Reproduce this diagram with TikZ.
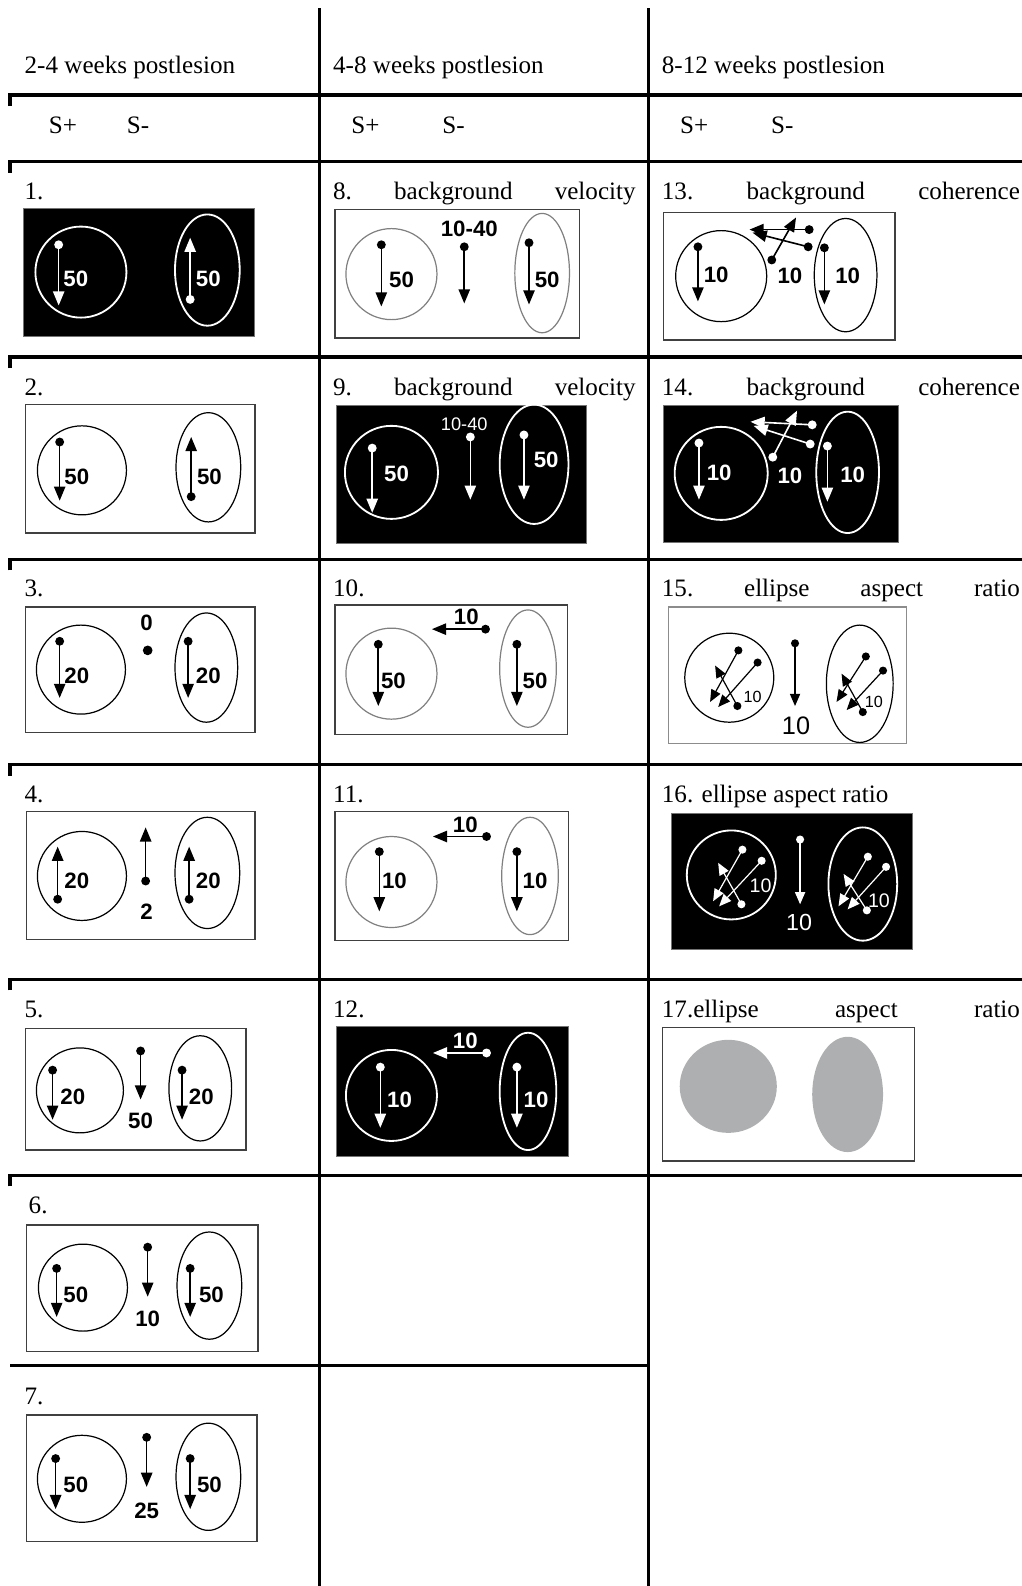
\documentclass[tikz,border=0pt]{standalone}
\usepackage{fontspec}
\setmainfont{Liberation Serif}
\newfontfamily\arialf{Liberation Sans}
\usetikzlibrary{arrows.meta}
\newcommand\labfont{\fontsize{12.4}{14}\selectfont}
\newcommand\pnumfont{\arialf\bfseries\fontsize{11}{11}\selectfont}
\newcommand\motionarrow[4][black]{%
  \coordinate (#2s) at (#3); \coordinate (#2e) at (#4);
  \fill[#1] (#2s) circle[radius=4.4];
  \draw[arr,#1] (#2s) -- (#2e);}
\newcommand\thinmotion[4][black]{%
  \coordinate (#2s) at (#3); \coordinate (#2e) at (#4);
  \fill[#1] (#2s) circle[radius=4];
  \draw[tarr,#1] (#2s) -- (#2e);}
\tikzset{
 grid/.style={line width=1.6pt, line join=miter},
 pnl/.style={draw=black!75, line width=0.7pt},
 bpnl/.style={fill=black, draw=black!55, line width=0.5pt},
 ring/.style={draw=black, line width=0.6pt},
 gring/.style={draw=black!50, line width=0.6pt},
 wring/.style={draw=white, line width=0.9pt},
 arr/.style={-{Triangle[length=7pt,width=5.6pt]}, line width=0.8pt},
 tarr/.style={-{Triangle[length=6pt,width=5pt]}, line width=0.6pt},
 lab/.style={font=\labfont, inner sep=0pt, anchor=base west},
 num/.style={font=\pnumfont, inner sep=0pt},
}
\begin{document}
\begin{tikzpicture}[x=0.5pt,y=-0.5pt]
\useasboundingbox (0,0) rectangle (1010,1568);
% ---------- grid ----------
\draw[grid] (316,8) -- (316,1568);
\draw[grid] (641,8) -- (641,1568);
\foreach \yy in {94,160,353,553,756,968,1162}
  \draw[grid] (10,\yy+11) -- (10,\yy) -- (1010,\yy);
\draw[grid] (10,1350) -- (641,1350);
% ---------- headers ----------
\node[lab] (h1) at (24,73) {2-4 weeks postlesion};
\node[lab] (h2) at (329,73) {4-8 weeks postlesion};
\node[lab] (h3) at (654,73) {8-12 weeks postlesion};
\node[lab] (sp1) at (48,132) {S+};  \node[lab] (sm1) at (125,132) {S-};
\node[lab] (sp2) at (347,132) {S+}; \node[lab] (sm2) at (437,132) {S-};
\node[lab] (sp3) at (672,132) {S+}; \node[lab] (sm3) at (762,132) {S-};
% ---------- row labels ----------
\node[lab] (t1) at (24,197) {1.};
\node[lab] (t2) at (24,391) {2.};
\node[lab] (t3) at (24,590) {3.};
\node[lab] (t4) at (24,793) {4.};
\node[lab] (t5) at (24,1006) {5.};
\node[lab] (t6) at (28,1200) {6.};
\node[lab] (t7) at (24,1389) {7.};
\node[lab] (t8) at (329,197) {\hbox to 149.5pt{8.\hfill background\hfill velocity}};
\node[lab] (t9) at (329,391) {\hbox to 149.5pt{9.\hfill background\hfill velocity}};
\node[lab] (t10) at (329,590) {10.};
\node[lab] (t11) at (329,793) {11.};
\node[lab] (t12) at (329,1006) {12.};
\node[lab] (t13) at (654,197) {\hbox to 177pt{13.\hfill background\hfill coherence}};
\node[lab] (t14) at (654,391) {\hbox to 177pt{14.\hfill background\hfill coherence}};
\node[lab] (t15) at (654,590) {\hbox to 177pt{15.\hfill ellipse\hfill aspect\hfill ratio}};
\node[lab] (t16) at (654,793) {16. ellipse aspect ratio};
\node[lab] (t17) at (654,1006) {\hbox to 177pt{17.ellipse\hfill aspect\hfill ratio}};
% ---------- panel 1 ----------
\filldraw[bpnl] (23,206) rectangle (252,333);
\draw[wring] (80,269) circle[radius=45];
\motionarrow[white]{a1}{58,242}{58,302}
\node[num,white] (n1a) at (75,276) {50};
\draw[wring] (205,267) circle[x radius=32,y radius=55];
\motionarrow[white]{b1}{188,296}{188,235}
\node[num,white] (n1b) at (206,276) {50};
% ---------- panel 2 ----------
\draw[pnl] (25,400) rectangle (252,527);
\draw[ring] (81,465) circle[radius=44];
\motionarrow{a2}{59,437}{59,495}
\node[num] (n2a) at (76,471) {50};
\draw[ring] (206,462) circle[x radius=32,y radius=54];
\motionarrow{b2}{189,491}{189,432}
\node[num] (n2b) at (207,471) {50};
% ---------- panel 3 ----------
\draw[pnl] (25,600) rectangle (252,724);
\draw[ring] (80,662) circle[radius=44];
\motionarrow{a3}{59,634}{59,690}
\node[num] (n3a) at (76,668) {20};
\node[num] (n3c) at (145,616) {0};
\coordinate (d3) at (146,643); \fill (d3) circle[radius=4.8];
\draw[ring] (204,660) circle[x radius=31,y radius=54];
\motionarrow{b3}{186,634}{186,690}
\node[num] (n3b) at (206,668) {20};
% ---------- panel 4 ----------
\draw[pnl] (26,802) rectangle (252,929);
\draw[ring] (81,866) circle[radius=44];
\motionarrow{a4}{57,889}{57,837}
\node[num] (n4a) at (76,871) {20};
\motionarrow{c4}{144,871}{144,818}
\node[num] (n4c) at (145,901) {2};
\draw[ring] (205,863) circle[x radius=32,y radius=55];
\motionarrow{b4}{187,889}{187,837}
\node[num] (n4b) at (206,871) {20};
% ---------- panel 5 ----------
\draw[pnl] (25,1017) rectangle (243,1137);
\draw[ring] (79,1078) circle[x radius=43,y radius=42];
\motionarrow{a5}{52,1058}{52,1107}
\node[num] (n5a) at (72,1084) {20};
\motionarrow{c5}{139,1039}{139,1087}
\node[num] (n5c) at (139,1108) {50};
\draw[ring] (198,1076) circle[x radius=31,y radius=52];
\motionarrow{b5}{180,1058}{180,1107}
\node[num] (n5b) at (199,1084) {20};
% ---------- panel 6 ----------
\draw[pnl] (26,1211) rectangle (255,1336);
\draw[ring] (82,1273) circle[x radius=44,y radius=43];
\motionarrow{a6}{56,1254}{56,1302}
\node[num] (n6a) at (75,1280) {50};
\motionarrow{c6}{146,1233}{146,1282}
\node[num] (n6c) at (146,1304) {10};
\draw[ring] (207,1271) circle[x radius=32,y radius=53];
\motionarrow{b6}{188,1254}{188,1302}
\node[num] (n6b) at (209,1280) {50};
% ---------- panel 7 ----------
\draw[pnl] (26,1399) rectangle (254,1524);
\draw[ring] (81,1462) circle[x radius=44,y radius=43];
\motionarrow{a7}{55,1442}{55,1492}
\node[num] (n7a) at (75,1468) {50};
\motionarrow{c7}{145,1421}{145,1470}
\node[num] (n7c) at (145,1494) {25};
\draw[ring] (206,1460) circle[x radius=32,y radius=53];
\motionarrow{b7}{188,1442}{188,1492}
\node[num] (n7b) at (207,1468) {50};
% ---------- panel 8 ----------
\draw[pnl] (331,207) rectangle (573,334);
\draw[gring] (387,271) circle[radius=45];
\motionarrow{a8}{377,242}{377,303}
\node[num] (n8a) at (397,277) {50};
\node[num] (n8c) at (464,226) {10-40};
\motionarrow{c8}{459,244}{459,300}
\draw[gring] (536,270) circle[x radius=27,y radius=59];
\motionarrow{b8}{523,240}{523,301}
\node[num] (n8b) at (541,277) {50};
% ---------- panel 9 ----------
\filldraw[bpnl] (333,401) rectangle (580,537);
\draw[wring] (387,467) circle[radius=46];
\motionarrow[white]{a9}{368,443}{368,507}
\node[num,white] (n9a) at (392,468) {50};
\node[white,inner sep=0pt,font=\arialf\fontsize{9}{9}\selectfont] (n9c) at (459,419) {10-40};
\motionarrow[white]{c9}{465,432}{465,494}
\draw[wring] (528,459) circle[x radius=34,y radius=59];
\motionarrow[white]{b9}{518,430}{518,494}
\node[num,white] (n9b) at (540,455) {50};
% ---------- panel 10 ----------
\draw[pnl] (331,598) rectangle (561,726);
\draw[gring] (387,666) circle[radius=45];
\motionarrow{a10}{374,637}{374,698}
\node[num] (n10a) at (389,673) {50};
\motionarrow{c10}{480,622}{427,622}
\node[num] (n10c) at (461,610) {10};
\draw[gring] (522,661) circle[x radius=28,y radius=58];
\motionarrow{b10}{511,637}{511,698}
\node[num] (n10b) at (529,673) {50};
% ---------- panel 11 ----------
\draw[pnl] (331,802) rectangle (562,930);
\draw[gring] (387,872) circle[radius=45];
\motionarrow{a11}{375,842}{375,901}
\node[num] (n11a) at (390,871) {10};
\motionarrow{c11}{481,827}{428,827}
\node[num] (n11c) at (460,815) {10};
\draw[gring] (524,866) circle[x radius=28,y radius=58];
\motionarrow{b11}{511,842}{511,901}
\node[num] (n11b) at (529,871) {10};
% ---------- panel 12 ----------
\filldraw[bpnl] (333,1015) rectangle (562,1143);
\draw[wring] (387,1083) circle[radius=45];
\motionarrow[white]{a12}{376,1055}{376,1115}
\node[num,white] (n12a) at (395,1087) {10};
\motionarrow[white]{c12}{481,1041}{428,1041}
\node[num,white] (n12c) at (460,1029) {10};
\draw[wring] (522,1079) circle[x radius=28,y radius=58];
\motionarrow[white]{b12}{511,1055}{511,1115}
\node[num,white] (n12b) at (530,1087) {10};
% ---------- panel 13 ----------
\draw[pnl] (656,210) rectangle (885,336);
\draw[ring] (713,273) circle[radius=45];
\motionarrow{a13}{690,244}{690,298}
\node[num] (n13a) at (708,272) {10};
\motionarrow{m13a}{800,227}{741,227}
\motionarrow{m13b}{799,244}{744,230}
\motionarrow{m13c}{763,257}{787,215}
\node[num] (n13c) at (781,273) {10};
\draw[ring] (836,272) circle[x radius=31,y radius=56];
\motionarrow{b13}{815,245}{815,301}
\node[num] (n13b) at (838,273) {10};
% ---------- panel 14 ----------
\filldraw[bpnl] (656,401) rectangle (888,536);
\draw[wring] (713,468) circle[radius=46];
\motionarrow[white]{a14}{691,438}{691,494}
\node[num,white] (n14a) at (711,467) {10};
\motionarrow[white]{m14a}{803,420}{742,417}
\motionarrow[white]{m14b}{801,439}{745,421}
\motionarrow[white]{m14c}{764,452}{788,406}
\node[num,white] (n14c) at (781,470) {10};
\draw[wring] (838,467) circle[x radius=31,y radius=60];
\motionarrow[white]{b14}{818,441}{818,496}
\node[num,white] (n14b) at (843,469) {10};
% ---------- panel 15 ----------
\draw[draw=black!45, line width=0.7pt] (661,600) rectangle (896,735);
\draw[ring] (721,670) circle[radius=44];
\thinmotion{p15a}{730,643}{702,694}
\thinmotion{p15b}{749,655}{710,699}
\thinmotion{p15c}{729,698}{707,658}
\node[inner sep=0pt,font=\arialf\fontsize{8}{8}\selectfont] (n15a) at (744,689) {10};
\thinmotion{c15}{786,636}{786,698}
\node[inner sep=0pt,font=\arialf\fontsize{12.5}{12.5}\selectfont] (n15c) at (787,718) {10};
\draw[ring] (850,676) circle[x radius=33,y radius=58];
\thinmotion{q15a}{856,649}{827,694}
\thinmotion{q15b}{873,663}{837,702}
\thinmotion{q15c}{853,704}{832,666}
\node[inner sep=0pt,font=\arialf\fontsize{8}{8}\selectfont] (n15b) at (864,694) {10};
% ---------- panel 16 ----------
\filldraw[bpnl] (664,804) rectangle (902,939);
\draw[wring] (723,865) circle[radius=44];
\thinmotion[white]{p16a}{734,840}{705,891}
\thinmotion[white]{p16b}{753,851}{711,896}
\thinmotion[white]{p16c}{733,894}{710,853}
\node[white,inner sep=0pt,font=\arialf\fontsize{9.7}{9.7}\selectfont] (n16a) at (752,876) {10};
\thinmotion[white]{c16}{791,830}{791,894}
\node[white,inner sep=0pt,font=\arialf\fontsize{11.5}{11.5}\selectfont] (n16c) at (790,912) {10};
\draw[wring] (853,874) circle[x radius=34,y radius=56];
\thinmotion[white]{q16a}{858,847}{829,896}
\thinmotion[white]{q16b}{876,857}{838,899}
\thinmotion[white]{q16c}{857,900}{834,864}
\node[white,inner sep=0pt,font=\arialf\fontsize{9.7}{9.7}\selectfont] (n16b) at (869,891) {10};
% ---------- panel 17 ----------
\draw[pnl] (655,1016) rectangle (904,1148);
\fill[fill={rgb,255:red,174;green,175;blue,176}] (720,1074) circle[x radius=48,y radius=46];
\fill[fill={rgb,255:red,174;green,175;blue,176}] (838,1082) circle[x radius=35,y radius=57];
\end{tikzpicture}
\end{document}
